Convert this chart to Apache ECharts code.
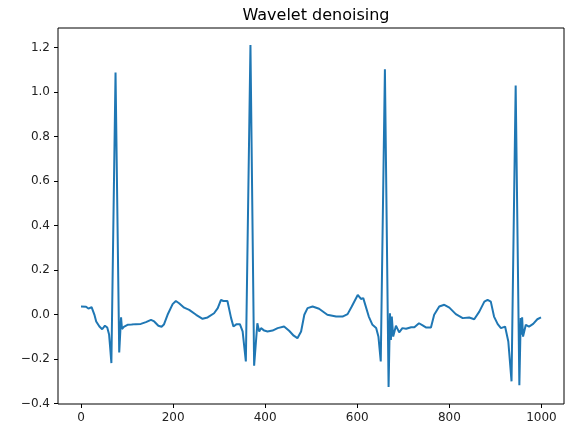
<!DOCTYPE html>
<html>
<head>
  <meta charset="utf-8">
  <script src="https://cdn.jsdelivr.net/npm/echarts@6/dist/echarts.min.js"></script>
  <style>
    html, body { margin: 0; padding: 0; background: #fff; }
    #chart { width: 570px; height: 430px; }
  </style>
</head>
<body>
<div id="chart"></div>
<script>
  // sample index of each point
  const sampleIdx = [
    0, 11, 16, 23, 29, 33, 40, 46, 52, 57, 61, 63, 66, 75, 83, 87, 89, 93, 97, 101,
    110, 119, 130, 141, 152, 159, 168, 175, 180, 188, 199, 206, 213, 224, 235, 250, 264, 275, 289, 297,
    304, 309, 318, 326, 331, 338, 345, 351, 358, 368, 376, 383, 387, 391, 398, 405, 416, 427, 441, 452,
    462, 470, 478, 485, 492, 503, 517, 535, 554, 568, 579, 588, 601, 608, 613, 625, 633, 641, 646, 651,
    660, 668, 671, 673, 675, 678, 684, 691, 698, 706, 717, 724, 734, 742, 749, 760, 767, 778, 789, 800,
    814, 829, 843, 854, 865, 876, 883, 890, 897, 905, 912, 921, 928, 935, 944, 952, 955, 957, 958, 960,
    966, 973, 982, 991, 999
  ]
  // denoised amplitude at those samples
  const amplitude = [
    0.036, 0.035, 0.027, 0.033, 0.0, -0.031, -0.054, -0.066, -0.05, -0.058, -0.09, -0.14, -0.218, 1.088, -0.17, -0.012, -0.065, -0.055, -0.062, -0.046,
    -0.045, -0.043, -0.042, -0.034, -0.024, -0.031, -0.05, -0.055, -0.045, -0.001, 0.047, 0.061, 0.051, 0.031, 0.021, -0.001, -0.019, -0.013, 0.006, 0.029,
    0.066, 0.061, 0.061, -0.016, -0.054, -0.043, -0.043, -0.076, -0.211, 1.212, -0.23, -0.039, -0.076, -0.061, -0.072, -0.076, -0.072, -0.061, -0.054, -0.073,
    -0.095, -0.106, -0.076, -0.001, 0.029, 0.036, 0.026, -0.001, -0.009, -0.009, 0.002, 0.036, 0.088, 0.07, 0.074, -0.009, -0.046, -0.06, -0.1, -0.211,
    1.103, -0.325, 0.006, -0.114, -0.009, -0.099, -0.05, -0.08, -0.061, -0.064, -0.057, -0.057, -0.039, -0.049, -0.058, -0.058, -0.001, 0.036, 0.044, 0.031,
    0.002, -0.016, -0.013, -0.021, 0.013, 0.058, 0.066, 0.058, -0.009, -0.043, -0.061, -0.054, -0.121, -0.3, 1.03, -0.318, -0.016, -0.091, -0.012, -0.099,
    -0.046, -0.054, -0.042, -0.021, -0.013
  ]
  const xTicks = [0, 200, 400, 600, 800, 1000]
  const yTicks = [-0.4, -0.2, 0.0, 0.2, 0.4, 0.6, 0.8, 1.0, 1.2]

  const chart = echarts.init(document.getElementById('chart'), null, { renderer: 'canvas' })
  const font = 'DejaVu Sans'

  chart.setOption({
    animation: false,
    backgroundColor: '#fff',
    title: {
      text: 'Wavelet denoising',
      left: 311,
      top: 3,
      textAlign: 'center',
      textStyle: { fontFamily: font, fontSize: 16, fontWeight: 'normal', color: '#000' }
    },
    grid: {
      left: 58,
      right: 6,
      top: 28,
      bottom: 26,
      show: true,
      borderColor: '#000',
      borderWidth: 1
    },
    xAxis: {
      type: 'value',
      min: -49.95,
      max: 1048.95,
      splitLine: { show: false },
      axisLine: { show: false, onZero: false },
      axisTick: { show: true, inside: false, customValues: xTicks, length: 4, lineStyle: { color: '#000' } },
      axisLabel: {
        customValues: xTicks,
        fontFamily: font,
        fontSize: 12,
        color: '#222',
        margin: 8,
        formatter: v => String(v)
      }
    },
    yAxis: {
      type: 'value',
      min: -0.402,
      max: 1.288,
      splitLine: { show: false },
      axisLine: { show: false, onZero: false },
      axisTick: { show: true, inside: false, customValues: yTicks, length: 4, lineStyle: { color: '#000' } },
      axisLabel: {
        customValues: yTicks,
        fontFamily: font,
        fontSize: 12,
        color: '#222',
        margin: 8,
        formatter: v => v.toFixed(1).replace('-', '\u2212')
      }
    },
    series: [
      {
        type: 'line',
        data: sampleIdx.map((x, i) => [x, amplitude[i]]),
        showSymbol: false,
        smooth: false,
        lineStyle: { color: '#1f77b4', width: 2 },
        itemStyle: { color: '#1f77b4' }
      }
    ]
  })
</script>
</body>
</html>
